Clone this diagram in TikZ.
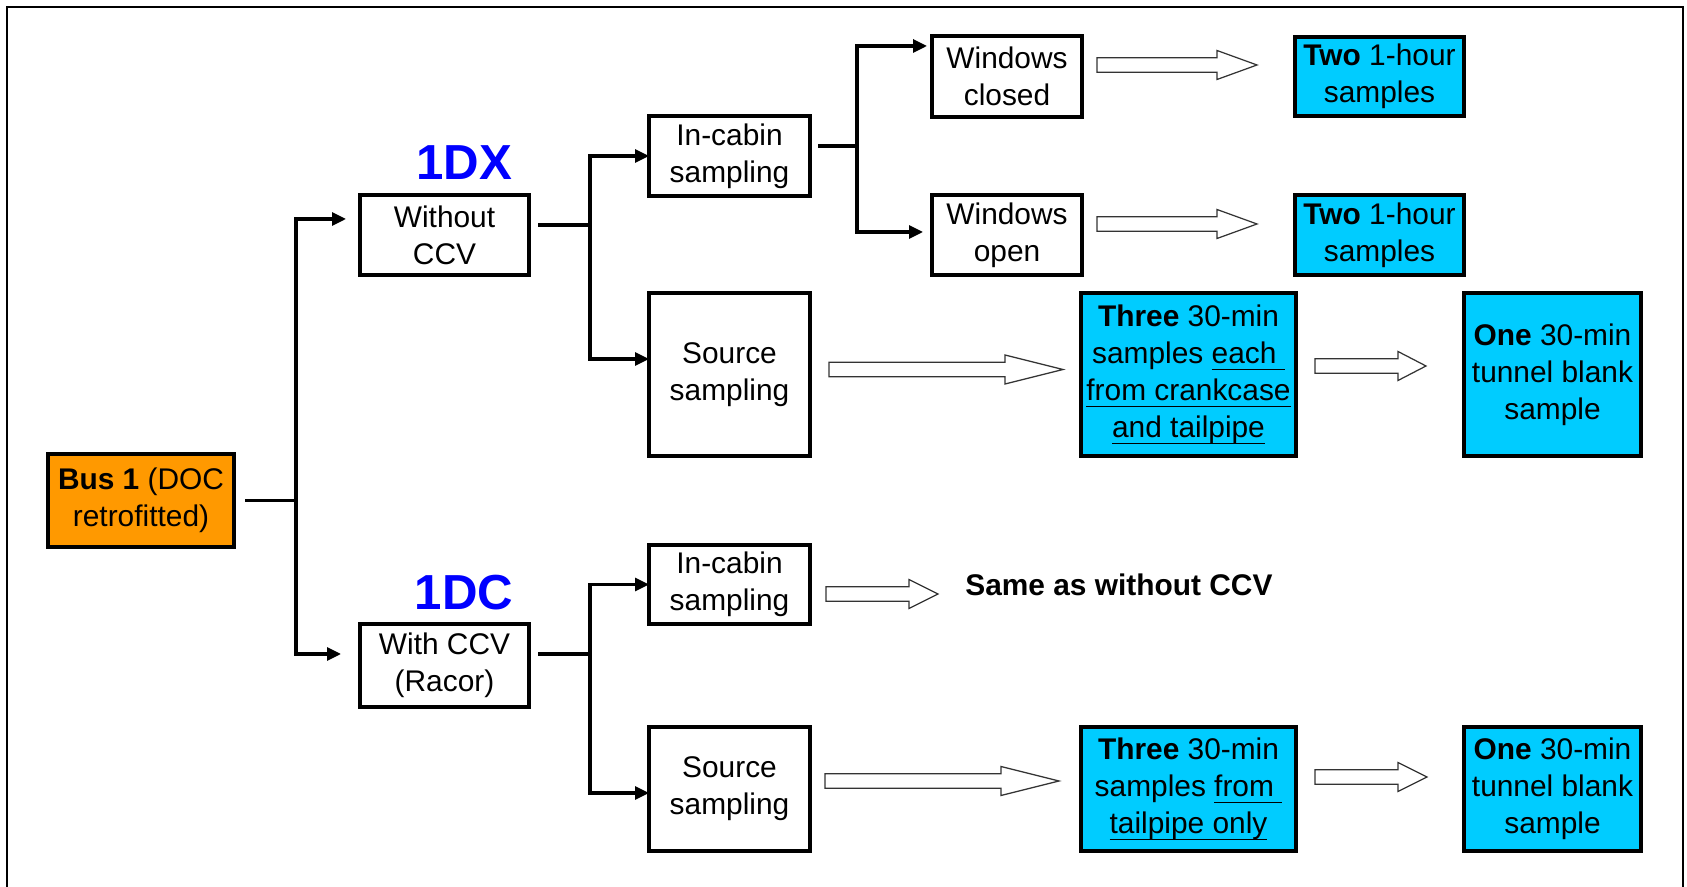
\documentclass[tikz,border=0pt]{standalone}
\usepackage{fontspec}
\setmainfont{Liberation Sans}
\usepackage{xcolor}
\definecolor{busorange}{HTML}{FF9900}
\definecolor{samplecyan}{HTML}{00CCFF}
\definecolor{tagblue}{HTML}{0000FF}
\usepackage{tikz}
\usetikzlibrary{
  positioning,
  arrows.meta,
  calc
}

% underline at a fixed depth, like a word processor does
\newcommand{\ulined}[1]{\underline{\smash{#1}\rule[-2pt]{0pt}{0pt}}}

\begin{document}
\begin{tikzpicture}[
  >={Triangle[length=0.28cm, width=0.26cm]},
  flowbox/.style 2 args={
    rectangle, draw, line width=1.8pt, fill=white, align=center,
    inner sep=0.08cm, outer sep=0pt, minimum width=#1, minimum height=#2,
    font=\fontsize{17}{21}\selectfont
  },
  tag/.style={inner sep=0pt, text=tagblue,
    font=\fontsize{28}{32}\selectfont\bfseries},
  link/.style={line width=1.8pt},
  flow/.style={link, ->},
  hollow/.style={
    draw=black!80, fill=white, line width=0.7pt, line join=miter,
    to path={let \p1=(\tikztostart), \p2=(\tikztotarget) in
      (\x1,\y1+0.145cm) -- (\x2-#1,\y1+0.145cm) -- (\x2-#1,\y1+0.29cm)
      -- (\x2,\y1) -- (\x2-#1,\y1-0.29cm) -- (\x2-#1,\y1-0.145cm)
      -- (\x1,\y1-0.145cm) -- cycle}
  }
]
\useasboundingbox (0,0) rectangle (33.74,17.72);
\draw[line width=1.1pt] (0.14,-0.2) -- (0.14,17.58) -- (33.66,17.58) -- (33.66,-0.2);

\node[flowbox={3.72cm}{1.86cm}, fill=busorange] (bus) at (2.82,7.71)
  {\textbf{Bus 1} (DOC\\retrofitted)};

% the two set-ups
\node[flowbox={3.38cm}{1.6cm}] (noccv) at (8.89,13.02) {Without\\CCV};
\node[flowbox={3.38cm}{1.66cm}, below=6.98cm of noccv] (ccv) {With CCV\\(Racor)};
\node[tag, above=0.3cm of noccv, xshift=0.39cm] (dx) {1DX};
\node[tag, above=0.28cm of ccv, xshift=0.39cm] (dc) {1DC};

% without CCV
\node[flowbox={3.22cm}{1.6cm}] (cabin1) at (14.59,14.60) {In-cabin\\sampling};
\node[flowbox={3.22cm}{3.26cm}, below=1.94cm of cabin1] (source1) {Source\\sampling};
\node[flowbox={3.0cm}{1.62cm}] (closed) at (20.14,16.19) {Windows\\closed};
\node[flowbox={3.0cm}{1.6cm}, below=1.56cm of closed] (open) {Windows\\open};
\node[flowbox={3.38cm}{1.58cm}, fill=samplecyan, right=4.26cm of closed] (hourA)
  {\textbf{Two} 1-hour\\samples};
\node[flowbox={3.38cm}{1.6cm}, fill=samplecyan, right=4.26cm of open] (hourB)
  {\textbf{Two} 1-hour\\samples};
\node[flowbox={4.3cm}{3.26cm}, fill=samplecyan, right=5.42cm of source1] (three1)
  {\textbf{Three} 30-min\\samples \ulined{each\ }\\\ulined{from crankcase}\\\ulined{and tailpipe}};
\node[flowbox={3.54cm}{3.26cm}, fill=samplecyan, right=3.36cm of three1] (blank1)
  {\textbf{One} 30-min\\tunnel blank\\sample};

% with CCV
\node[flowbox={3.22cm}{1.58cm}] (cabin2) at (14.59,6.03) {In-cabin\\sampling};
\node[flowbox={3.22cm}{2.48cm}, below=2.06cm of cabin2] (source2) {Source\\sampling};
\node[inner sep=0pt, font=\fontsize{17}{21}\selectfont\bfseries,
  right=3.1cm of cabin2] (same) {Same as without CCV};
\node[flowbox={4.3cm}{2.48cm}, fill=samplecyan, right=5.42cm of source2] (three2)
  {\textbf{Three} 30-min\\samples \ulined{from\ }\\\ulined{tailpipe only}};
\node[flowbox={3.54cm}{2.48cm}, fill=samplecyan, right=3.36cm of three2] (blank2)
  {\textbf{One} 30-min\\tunnel blank\\sample};

% branching lines
\draw[link] ([xshift=0.22cm]bus.east) -- ++(1.02,0) coordinate (busfork);
\draw[flow, shorten >=0.28cm] (busfork) |- ([yshift=0.32cm]noccv.west);
\draw[flow, shorten >=0.38cm] (busfork) |- ([yshift=0.23cm]ccv.west);

\draw[link] ([shift={(0.18,0.2)}]noccv.east) -- ++(1.04,0) coordinate (noccvfork);
\draw[flow] (noccvfork) |- (cabin1.west);
\draw[flow] (noccvfork) |- ([yshift=0.31cm]source1.west);

\draw[link] ([shift={(0.16,0.2)}]cabin1.east) -- ++(0.78,0) coordinate (cabinfork);
\draw[flow, shorten >=0.1cm] (cabinfork) |- ([yshift=0.61cm]closed.west);
\draw[flow, shorten >=0.18cm] (cabinfork) |- ([yshift=0.06cm]open.west);

\draw[link] ([shift={(0.18,0.23)}]ccv.east) -- ++(1.04,0) coordinate (ccvfork);
\draw[flow] (ccvfork) |- (cabin2.west);
\draw[flow] (ccvfork) |- ([yshift=-0.08cm]source2.west);

% outcome arrows
\draw[hollow=0.8cm] ([shift={(0.3,0.23)}]closed.east) to ([xshift=-0.76cm]hourA.west);
\draw[hollow=0.8cm] ([shift={(0.3,0.22)}]open.east) to ([xshift=-0.76cm]hourB.west);
\draw[hollow=1.16cm] ([shift={(0.38,0.1)}]source1.east) to ([xshift=-0.36cm]three1.west);
\draw[hollow=0.56cm] ([shift={(0.38,0.17)}]three1.east) to ([xshift=-0.76cm]blank1.west);
\draw[hollow=0.58cm] ([shift={(0.32,-0.19)}]cabin2.east) to ([xshift=-0.54cm]same.west);
\draw[hollow=1.16cm] ([shift={(0.3,0.16)}]source2.east) to ([xshift=-0.44cm]three2.west);
\draw[hollow=0.58cm] ([shift={(0.38,0.24)}]three2.east) to ([xshift=-0.74cm]blank2.west);

\end{tikzpicture}
\end{document}
